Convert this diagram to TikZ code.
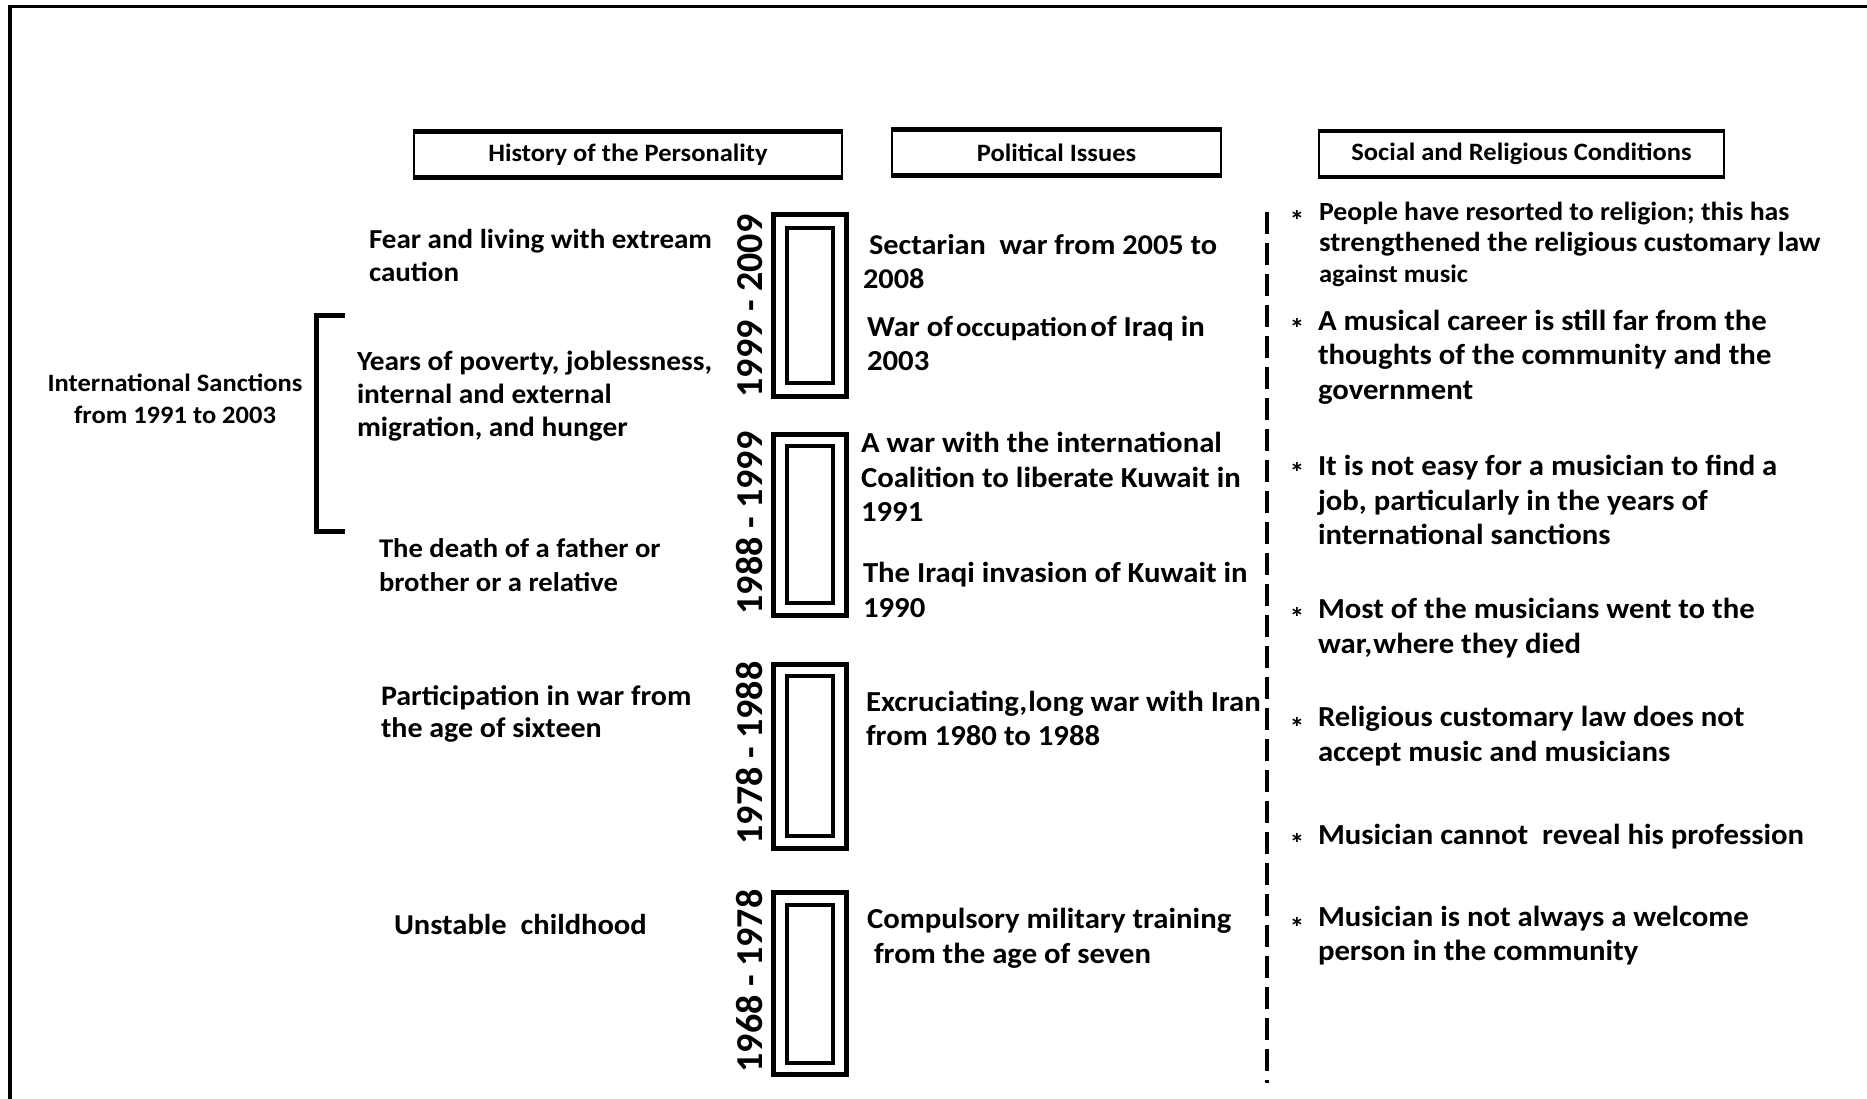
\documentclass[tikz,border=0pt]{standalone}
\usepackage{fontspec}
\setmainfont{Carlito}[FakeStretch=1.06]
\newfontfamily\yearfont{Carlito}
\begin{document}
\begin{tikzpicture}[x=1pt,y=-1pt,
  every node/.style={inner sep=0pt,outer sep=0pt},
  txt/.style={anchor=west,align=left,font=\bfseries\fontsize{29}{34.5}\selectfont},
  ltxt/.style={anchor=west,align=left,font=\bfseries\fontsize{27.7}{33}\selectfont},
  stxt/.style={anchor=west,align=left,font=\bfseries\fontsize{26}{31}\selectfont},
  head/.style={draw,line width=2pt,minimum height=46pt,font=\bfseries\fontsize{25}{28}\selectfont},
  outerbox/.style={draw,line width=5pt,minimum width=73pt},
  innerbox/.style={draw,line width=3.5pt,minimum width=46pt},
  year/.style={rotate=90,anchor=base,font=\yearfont\bfseries\fontsize{38}{44}\selectfont},
  bul/.style={anchor=center,font=\bfseries\fontsize{28}{30}\selectfont},
  thickedge/.style={line width=4.5pt}
]
\useasboundingbox (0,0) rectangle (1867,1099);
\fill[white] (0,0) rectangle (1867,1099);
% frame
\coordinate (fa) at (10,1099);
\coordinate (fb) at (10,6.5);
\coordinate (fc) at (1867,6.5);
\draw[line width=3.5pt,line join=miter] (fa) -- (fb) -- (fc);

% headers
\node[head,minimum width=428pt] (h1) at (628,154.5) {History of the Personality};
\node[head,minimum width=329pt] (h2) at (1056.5,152.5) {Political Issues};
\node[head,minimum width=405pt] (h3) at (1521.5,154) {Social and Religious Conditions};
\foreach \h in {h1,h2,h3}{
  \draw[thickedge] ([xshift=-1pt]\h.north west) -- ([xshift=1pt]\h.north east);
  \draw[thickedge] ([xshift=-1pt]\h.south west) -- ([xshift=1pt]\h.south east);
}

% timeline boxes
\node[outerbox,minimum height=182pt] (o1) at (810,305.5) {};
\node[innerbox,minimum height=155pt] (i1) at (810,305.5) {};
\node[outerbox,minimum height=181pt] (o2) at (810,525) {};
\node[innerbox,minimum height=157pt] (i2) at (810,524.5) {};
\node[outerbox,minimum height=184pt] (o3) at (810,756.5) {};
\node[innerbox,minimum height=160pt] (i3) at (810,756) {};
\node[outerbox,minimum height=182pt] (o4) at (810,983.5) {};
\node[innerbox,minimum height=158pt] (i4) at (810,984) {};

% year labels
\node[year] (y1) at (762,306) {1999 - 2009};
\node[year] (y2) at (762,523) {1988 - 1999};
\node[year] (y3) at (762,753) {1978 - 1988};
\node[year] (y4) at (762,981) {1968 - 1978};

% left column
\node[ltxt,font=\bfseries\fontsize{27.4}{33}\selectfont] (l1) at (369,255) {Fear and living with extream\\caution};
\node[ltxt] (l2) at (357,396) {Years of poverty, joblessness,\\internal and external\\migration, and hunger};
\node[ltxt,font=\bfseries\fontsize{27}{34}\selectfont] (l3) at (379,565) {The death of a father or\\brother or a relative};
\node[ltxt,font=\bfseries\fontsize{28.3}{32}\selectfont] (l4) at (381,714) {Participation in war from\\the age of sixteen};
\node[ltxt,font=\bfseries\fontsize{28.8}{33}\selectfont] (l5) at (394,924) {Unstable\ \ childhood};
\node[align=center,font=\bfseries\fontsize{25}{32}\selectfont] (l6) at (175,399) {International Sanctions\\from 1991 to 2003};

% bracket
\coordinate (b1) at (345,315.5);
\coordinate (b2) at (316.7,315.5);
\coordinate (b3) at (316.7,531.5);
\coordinate (b4) at (345,531.5);
\draw[line width=5.5pt,line join=miter] (b1) -- (b2) -- (b3) -- (b4);

% middle column
\node[txt,font=\bfseries\fontsize{28.6}{34.5}\selectfont] (m1) at (863,261.5) {\hspace{6pt}Sectarian\ \ war from 2005 to\\2008};
\node[txt] (m2) at (867,343.5) {War of\hspace{3pt}{\fontsize{27}{30}\selectfont occupation}\hspace{3pt}of Iraq in\\2003};
\node[txt] (m3) at (861,477) {A war with the international\\Coalition to liberate Kuwait in\\1991};
\node[txt] (m4) at (863,590) {The Iraqi invasion of Kuwait in\\1990};
\node[txt] (m5) at (866,718.5) {Excruciating,\hspace{1pt}long war with Iran\\from 1980 to 1988};
\node[txt] (m6) at (867,938.5) {Compulsory military training\\\hspace{7pt}from the age of seven};

% dashed divider
\coordinate (d1) at (1267,212);
\coordinate (d2) at (1267,1083);
\draw[line width=4pt,dash pattern=on 22pt off 9pt] (d1) -- (d2);

% social column
\node[bul] (s1b) at (1297,220) {*};
\node[stxt] (s1) at (1319,244) {{\fontsize{26.2}{31}\selectfont People have resorted to religion; this has}\\{\fontsize{27.5}{31}\selectfont strengthened the religious customary law}\\{\fontsize{25.1}{31}\selectfont against music}};
\node[bul] (s2b) at (1297,328) {*};
\node[txt] (s2) at (1318,357) {A musical career is still far from the\\thoughts of the community and the\\government};
\node[bul] (s3b) at (1297,472) {*};
\node[txt] (s3) at (1318,500) {It is not easy for a musician to find a\\job, particularly in the years of\\international sanctions};
\node[bul] (s4b) at (1297,617) {*};
\node[txt] (s4) at (1318,628) {Most of the musicians went to the\\war,\hspace{1pt}where they died};
\node[bul] (s5b) at (1297,727) {*};
\node[txt] (s5) at (1318,736) {Religious customary law does not\\accept music and musicians};
\node[bul] (s6b) at (1297,843) {*};
\node[txt] (s6) at (1318,837) {Musician cannot\ \ reveal his profession};
\node[bul] (s7b) at (1297,927) {*};
\node[txt] (s7) at (1318,935.5) {Musician is not always a welcome\\person in the community};
\end{tikzpicture}
\end{document}
